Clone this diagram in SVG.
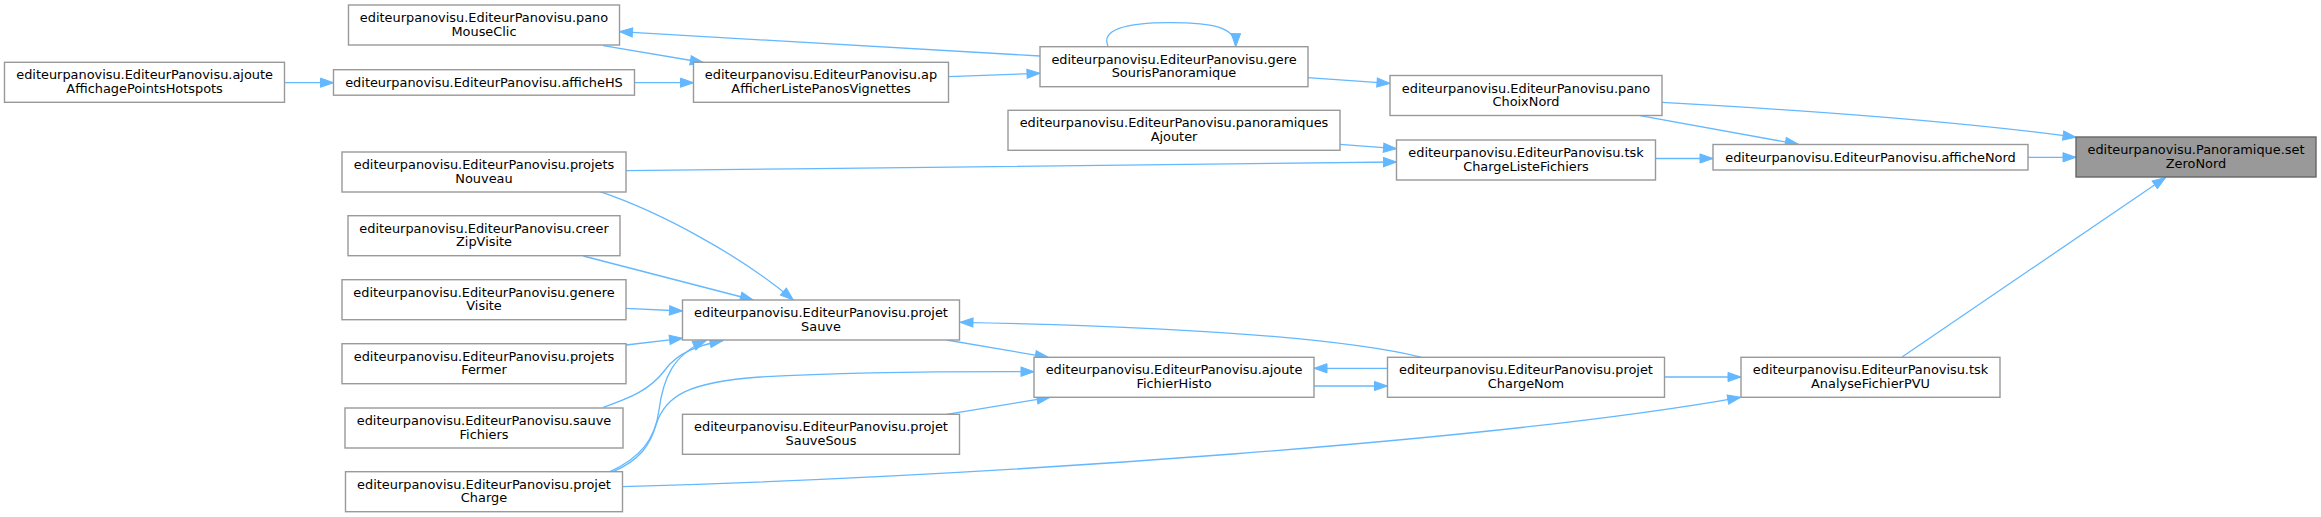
<svg xmlns="http://www.w3.org/2000/svg" width="2321" height="517" viewBox="0 0 2321 517">
<style>
.node rect{fill:#ffffff;stroke:#999999;stroke-width:1.4}
.node.root rect{fill:#999999;stroke:#666666}
.node text{font-family:"DejaVu Sans","Liberation Sans",sans-serif;font-size:12.9px;fill:#000000;text-anchor:middle}
.edges path{fill:none;stroke:#63b8ff;stroke-width:1.3;marker-end:url(#ah)}
</style>
<defs>
<marker id="ah" markerUnits="userSpaceOnUse" markerWidth="16" markerHeight="12" refX="13" refY="5" orient="auto" overflow="visible">
<path d="M0,0.4 L13,5 L0,9.6 z" fill="#63b8ff" stroke="#63b8ff" stroke-width="1"/>
</marker>
</defs>
<rect x="0" y="0" width="2321" height="517" fill="#ffffff"/>
<g class="edges" id="edges">
<path d="M1662,102.3 C1800,110 1950,120 2076,137.3"/>
<path d="M2028,157.3 L2076,157.3"/>
<path d="M1902,357 L2165.5,177.5"/>
<path d="M1640,115.7 L1798.3,144.3"/>
<path d="M1656,158.5 L1713,158.5"/>
<path d="M1307.5,77.7 L1390,83.4"/>
<path d="M1108.3,46.7 C1100,30 1125,22.7 1170,22.7 C1215,22.7 1236,28 1235.7,46.7"/>
<path d="M1040,56 L619.5,31.7"/>
<path d="M603.3,45.7 L703.3,62.5"/>
<path d="M634.5,82.7 L693.5,82.7"/>
<path d="M948.5,76.7 L1040,73.3"/>
<path d="M284.8,82.7 L333.5,82.7"/>
<path d="M1340,144.3 L1396.5,148.7"/>
<path d="M626,170.7 C900,168 1200,163 1396.5,162"/>
<path d="M600,191.7 C660,212 740,255 793.3,300"/>
<path d="M583.3,256 L753.3,300"/>
<path d="M626,308.3 L682.5,311"/>
<path d="M626,345 L682.5,338.3"/>
<path d="M603.3,407.3 C630,398 650,390 665,370 C678,352 700,345 723,340.5"/>
<path d="M610,471.7 C640,458 655,440 659,410 C663,380 672,355 706,340.5"/>
<path d="M946.6,340 L1048.3,357.3"/>
<path d="M613,471.7 C640,460 650,445 656,425 C665,395 690,382 760,377 C850,372 960,371.5 1034,371.7"/>
<path d="M946.6,414.3 L1050,397.3"/>
<path d="M1387.5,368.3 L1314,368.3"/>
<path d="M1314,386 L1387.5,386"/>
<path d="M1421.7,357.3 C1350,340 1200,327 960,322.3"/>
<path d="M1665,377 L1741,377"/>
<path d="M622.3,486.7 C1000,476 1500,440 1740.7,397.3"/>
</g>
<g class="node root" id="setZeroNord"><rect x="2076" y="137" width="240" height="40"/><text x="2196" y="154">editeurpanovisu.Panoramique.set</text><text x="2196" y="167.7">ZeroNord</text></g>
<g class="node" id="afficheNord"><rect x="1713" y="144.5" width="315" height="25.5"/><text x="1870.5" y="161.5">editeurpanovisu.EditeurPanovisu.afficheNord</text></g>
<g class="node" id="tskAnalyseFichierPVU"><rect x="1741" y="357.3" width="259" height="40"/><text x="1870.5" y="374.3">editeurpanovisu.EditeurPanovisu.tsk</text><text x="1870.5" y="388">AnalyseFichierPVU</text></g>
<g class="node" id="panoChoixNord"><rect x="1390" y="75.5" width="272" height="40"/><text x="1526" y="92.5">editeurpanovisu.EditeurPanovisu.pano</text><text x="1526" y="106.2">ChoixNord</text></g>
<g class="node" id="tskChargeListeFichiers"><rect x="1396.5" y="140" width="259" height="40"/><text x="1526" y="157">editeurpanovisu.EditeurPanovisu.tsk</text><text x="1526" y="170.7">ChargeListeFichiers</text></g>
<g class="node" id="projetChargeNom"><rect x="1387.5" y="357.3" width="277" height="40"/><text x="1526" y="374.3">editeurpanovisu.EditeurPanovisu.projet</text><text x="1526" y="388">ChargeNom</text></g>
<g class="node" id="gereSourisPanoramique"><rect x="1040" y="46.7" width="268" height="40"/><text x="1174" y="63.7">editeurpanovisu.EditeurPanovisu.gere</text><text x="1174" y="77.4">SourisPanoramique</text></g>
<g class="node" id="panoramiquesAjouter"><rect x="1008" y="110.3" width="332" height="40"/><text x="1174" y="127.3">editeurpanovisu.EditeurPanovisu.panoramiques</text><text x="1174" y="141">Ajouter</text></g>
<g class="node" id="ajouteFichierHisto"><rect x="1034" y="357.3" width="280" height="40"/><text x="1174" y="374.3">editeurpanovisu.EditeurPanovisu.ajoute</text><text x="1174" y="388">FichierHisto</text></g>
<g class="node" id="apAfficherListePanosVignettes"><rect x="693.5" y="62.3" width="255" height="40"/><text x="821" y="79.3">editeurpanovisu.EditeurPanovisu.ap</text><text x="821" y="93">AfficherListePanosVignettes</text></g>
<g class="node" id="projetSauve"><rect x="682.5" y="300" width="277" height="40"/><text x="821" y="317">editeurpanovisu.EditeurPanovisu.projet</text><text x="821" y="330.7">Sauve</text></g>
<g class="node" id="projetSauveSous"><rect x="682.5" y="414.3" width="277" height="40"/><text x="821" y="431.3">editeurpanovisu.EditeurPanovisu.projet</text><text x="821" y="445">SauveSous</text></g>
<g class="node" id="panoMouseClic"><rect x="348.5" y="5" width="271" height="40"/><text x="484" y="22">editeurpanovisu.EditeurPanovisu.pano</text><text x="484" y="35.7">MouseClic</text></g>
<g class="node" id="afficheHS"><rect x="333.5" y="69.7" width="301" height="25.5"/><text x="484" y="86.7">editeurpanovisu.EditeurPanovisu.afficheHS</text></g>
<g class="node" id="projetsNouveau"><rect x="342" y="152" width="284" height="40"/><text x="484" y="169">editeurpanovisu.EditeurPanovisu.projets</text><text x="484" y="182.7">Nouveau</text></g>
<g class="node" id="creerZipVisite"><rect x="348" y="215.7" width="272" height="40"/><text x="484" y="232.7">editeurpanovisu.EditeurPanovisu.creer</text><text x="484" y="246.4">ZipVisite</text></g>
<g class="node" id="genereVisite"><rect x="342" y="279.7" width="284" height="40"/><text x="484" y="296.7">editeurpanovisu.EditeurPanovisu.genere</text><text x="484" y="310.4">Visite</text></g>
<g class="node" id="projetsFermer"><rect x="342" y="343.7" width="284" height="40"/><text x="484" y="360.7">editeurpanovisu.EditeurPanovisu.projets</text><text x="484" y="374.4">Fermer</text></g>
<g class="node" id="sauveFichiers"><rect x="345" y="408" width="278" height="40"/><text x="484" y="425">editeurpanovisu.EditeurPanovisu.sauve</text><text x="484" y="438.7">Fichiers</text></g>
<g class="node" id="projetCharge"><rect x="345.5" y="471.7" width="277" height="40"/><text x="484" y="488.7">editeurpanovisu.EditeurPanovisu.projet</text><text x="484" y="502.4">Charge</text></g>
<g class="node" id="ajouteAffichagePointsHotspots"><rect x="4.5" y="62.3" width="280" height="40"/><text x="144.6" y="79.3">editeurpanovisu.EditeurPanovisu.ajoute</text><text x="144.6" y="93">AffichagePointsHotspots</text></g>
</svg>
